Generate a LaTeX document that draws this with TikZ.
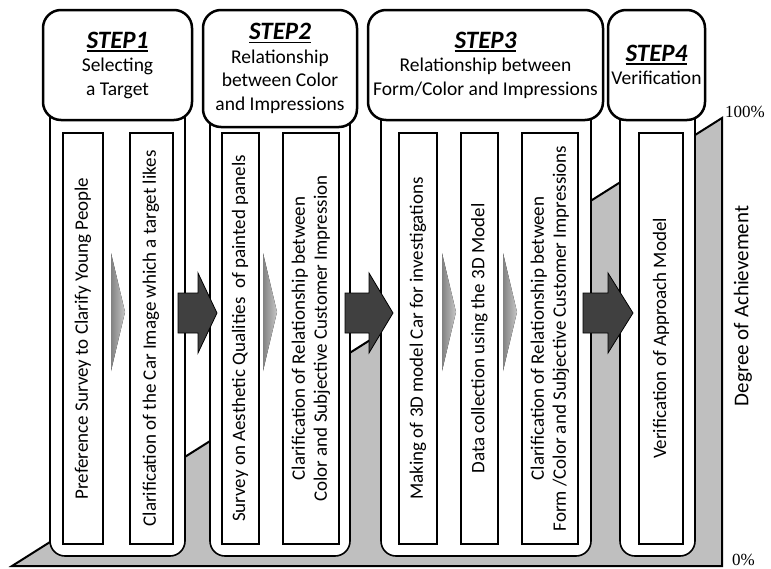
\documentclass[tikz,border=0pt]{standalone}
\usepackage{fontspec}
\setmainfont{Carlito}
\newfontfamily\pctfont{Liberation Serif}
\usepackage{tikz}
\usetikzlibrary{positioning}
\definecolor{stairgray}{RGB}{191, 191, 191}
\definecolor{arrowdark}{RGB}{64, 64, 64}
\definecolor{arrowlight}{RGB}{130, 130, 130}
\newcommand{\steptitle}[1]{{\fontsize{25}{28}\selectfont\bfseries\itshape
    \setbox0\hbox{#1}\rlap{\rule[-3.5pt]{\wd0}{1.8pt}}\box0}}

\begin{document}
\begin{tikzpicture}[x=1pt, y=-1pt,
    head/.style={draw, line width=2.5pt, rounded corners=18pt, fill=white, align=center,
        inner sep=0pt, font=\fontsize{19.5}{23.5}\selectfont},
    body/.style={draw, line width=1.6pt, rounded corners=15pt, fill=white, inner sep=0pt},
    task/.style={draw, line width=2pt, fill=white, rotate=90, align=center, inner sep=0pt,
        minimum width=411pt, font=\fontsize{19}{22}\selectfont},
    bigarrow/.style={draw=black, line width=0.8pt, fill=arrowdark},
    smallarrow/.style={left color=arrowlight, right color=arrowlight!45}]
    \useasboundingbox (0,0) rectangle (771,568);
    % degree of achievement
    \draw[fill=stairgray, line width=2pt, line join=miter] (12,566) -- (722,118) -- (722,566) -- cycle;
    \node[anchor=west, font=\pctfont\fontsize{17}{20}\selectfont, inner sep=0pt] (full) at (725,112) {100\%};
    \node[anchor=west, font=\pctfont\fontsize{17}{20}\selectfont, inner sep=0pt] (zero) at (732,560) {0\%};
    \node[rotate=90, font=\fontsize{21}{24}\selectfont] (degree) at (743,306) {Degree of Achievement};
    % columns
    \node[body, minimum width=135pt, minimum height=496pt] (body1) at (117.5,308) {};
    \node[body, minimum width=140pt, minimum height=496pt] (body2) at (280,308) {};
    \node[body, minimum width=210pt, minimum height=496pt] (body3) at (486,308) {};
    \node[body, minimum width=75pt, minimum height=496pt] (body4) at (657.5,308) {};
    \node[head, minimum width=149pt, minimum height=110pt] (head1) at (117.5,65)
        {\steptitle{STEP1}\\Selecting\\a Target};
    \node[head, minimum width=154pt, minimum height=117pt] (head2) at (280,68.5)
        {\steptitle{STEP2}\\Relationship\\between Color\\and Impressions};
    \node[head, minimum width=235pt, minimum height=110pt] (head3) at (485.5,65)
        {\steptitle{STEP3}\\Relationship between\\Form/Color and Impressions};
    \node[head, minimum width=97pt, minimum height=110pt] (head4) at (656.5,65)
        {\steptitle{STEP4}\\Verification};
    % tasks
    \node[task, minimum height=40pt] (t11) at (83,338.5) {Preference Survey to Clarify Young People};
    \node[task, minimum height=43pt] (t12) at (151,338.5) {Clarification of the Car Image which a target likes};
    \node[task, minimum height=37pt] (t21) at (240,338.5) {Survey on Aesthetic Qualities~ of painted panels};
    \node[task, minimum height=56pt] (t22) at (311,338.5)
        {Clarification of Relationship between\\Color and Subjective Customer Impression};
    \node[task, minimum height=38pt] (t31) at (418,338.5) {Making of 3D model Car for investigations};
    \node[task, minimum height=37pt] (t32) at (479.5,338.5) {Data collection using the 3D Model};
    \node[task, minimum height=56pt] (t33) at (550,338.5)
        {Clarification of Relationship between\\Form /Color and Subjective Customer Impressions};
    \node[task, minimum height=44pt] (t41) at (661,338.5) {Verification of Approach Model};
    % arrows
    \foreach \x in {111, 263, 442, 503}
        \fill[smallarrow] (\x,253) -- (\x+14,312) -- (\x,371) -- cycle;
    \foreach \a/\b/\c in {178/198/217, 345/369/393, 583/608/633}
        \draw[bigarrow] (\a,293) -- (\b,293) -- (\b,273) -- (\c,313) -- (\b,353) -- (\b,333) -- (\a,333) -- cycle;
\end{tikzpicture}
\end{document}
